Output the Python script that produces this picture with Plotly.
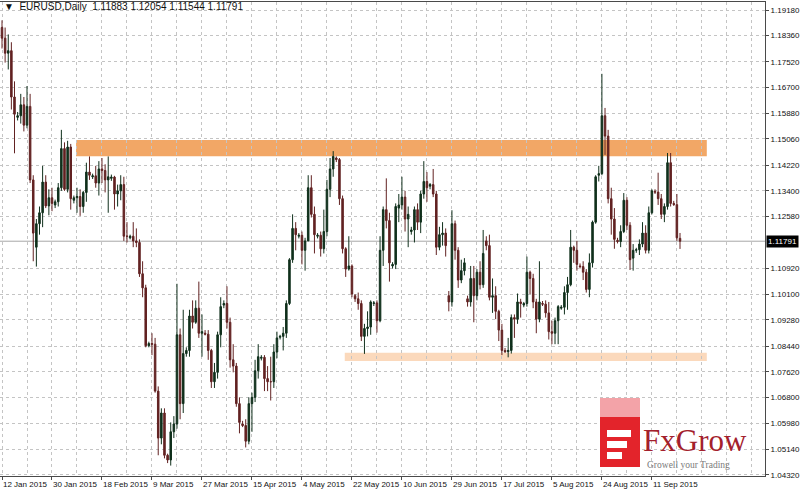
import pandas as pd
import plotly.graph_objects as go

# ---------------- data (EURUSD daily) ----------------
symbol = "EURUSD,Daily"
dates = pd.bdate_range("2015-01-12", "2015-09-22", freq="C",
                       weekmask="Sun Mon Tue Wed Thu Fri")

open_ = [
    1.1862, 1.1828, 1.1780, 1.1788, 1.1640,
    1.1575, 1.1580, 1.1615, 1.1550, 1.1610, 1.1375,
    1.1160, 1.1235, 1.1270, 1.1368, 1.1292, 1.1318,
    1.1295, 1.1305, 1.1350, 1.1475, 1.1345, 1.1480,
    1.1310, 1.1318, 1.1322, 1.1290, 1.1335, 1.1400,
    1.1385, 1.1388, 1.1365, 1.1410, 1.1405, 1.1375,
    1.1380, 1.1384, 1.1330, 1.1340, 1.1360, 1.1195,
    1.1190, 1.1195, 1.1180, 1.1175, 1.1075, 1.1030,
    1.0845, 1.0852, 1.0850, 1.0700, 1.0550, 1.0630,
    1.0495, 1.0480, 1.0570, 1.0595, 1.0880, 1.0660,
    1.0820, 1.0830, 1.0940, 1.0920, 1.0965, 1.0885,
    1.0885, 1.0882, 1.0830, 1.0730, 1.0760, 1.0880,
    1.0975, 1.0980, 1.0920, 1.0800, 1.0780, 1.0660,
    1.0595, 1.0590, 1.0540, 1.0660, 1.0680, 1.0765,
    1.0805, 1.0808, 1.0740, 1.0730, 1.0730, 1.0825,
    1.0872, 1.0875, 1.0885, 1.0980, 1.1120, 1.1220,
    1.1195, 1.1198, 1.1150, 1.1180, 1.1350, 1.1265,
    1.1195, 1.1198, 1.1155, 1.1210, 1.1345, 1.1410,
    1.1445, 1.1440, 1.1315, 1.1155, 1.1090, 1.1100,
    1.1005, 1.0995, 1.0980, 1.0875, 1.0900, 1.0905,
    1.0980, 1.0982, 1.0925, 1.1150, 1.1280, 1.1245,
    1.1100, 1.1105, 1.1285, 1.1295, 1.1320, 1.1250,
    1.1210, 1.1215, 1.1280, 1.1240, 1.1330, 1.1370,
    1.1355, 1.1360, 1.1330, 1.1160, 1.1200, 1.1205,
    1.1005, 1.0985, 1.1235, 1.1150, 1.1055, 1.1085,
    1.0995, 1.0985, 1.1060, 1.1005, 1.1080, 1.1040,
    1.1180, 1.1165, 1.1000, 1.1005, 1.0955, 1.0895,
    1.0830, 1.0826, 1.0830, 1.0935, 1.0930, 1.0985,
    1.0975, 1.0980, 1.1080, 1.1060, 1.0985, 1.0930,
    1.0980, 1.0978, 1.0950, 1.0890, 1.0885, 1.0925,
    1.0965, 1.0968, 1.1015, 1.1040, 1.1160, 1.1150,
    1.1100, 1.1098, 1.1080, 1.1025, 1.1110, 1.1240,
    1.1390, 1.1395, 1.1580, 1.1515, 1.1315, 1.1250,
    1.1182, 1.1178, 1.1210, 1.1310, 1.1230, 1.1125,
    1.1150, 1.1152, 1.1170, 1.1205, 1.1150, 1.1270,
    1.1338, 1.1336, 1.1315, 1.1265, 1.1290, 1.1430,
    1.1300, 1.1296, 1.11883,
]
high = [
    1.1885, 1.1862, 1.1840, 1.1815, 1.1690,
    1.1592, 1.1650, 1.1640, 1.1675, 1.1650, 1.1390,
    1.1250, 1.1290, 1.1420, 1.1390, 1.1345, 1.1350,
    1.1312, 1.1365, 1.1535, 1.1495, 1.1500, 1.1490,
    1.1325, 1.1350, 1.1345, 1.1340, 1.1430, 1.1450,
    1.1395, 1.1420, 1.1435, 1.1445, 1.1425, 1.1450,
    1.1392, 1.1388, 1.1360, 1.1390, 1.1385, 1.1240,
    1.1200, 1.1240, 1.1220, 1.1185, 1.1115, 1.1040,
    1.0858, 1.0885, 1.0870, 1.0715, 1.0645, 1.0645,
    1.0500, 1.0600, 1.0620, 1.1043, 1.0900, 1.0960,
    1.0840, 1.0960, 1.0990, 1.0990, 1.1050, 1.0945,
    1.0895, 1.0895, 1.0835, 1.0790, 1.0890, 1.1000,
    1.0990, 1.1035, 1.0935, 1.0850, 1.0790, 1.0680,
    1.0605, 1.0610, 1.0680, 1.0695, 1.0800, 1.0850,
    1.0815, 1.0815, 1.0780, 1.0810, 1.0850, 1.0890,
    1.0880, 1.0905, 1.0990, 1.1125, 1.1265, 1.1240,
    1.1205, 1.1210, 1.1190, 1.1390, 1.1390, 1.1290,
    1.1205, 1.1210, 1.1280, 1.1375, 1.1445, 1.1467,
    1.1450, 1.1445, 1.1325, 1.1160, 1.1195, 1.1105,
    1.1010, 1.1015, 1.0990, 1.0915, 1.0955, 1.0990,
    1.0988, 1.0990, 1.1195, 1.1290, 1.1380, 1.1270,
    1.1112, 1.1300, 1.1330, 1.1385, 1.1340, 1.1290,
    1.1225, 1.1290, 1.1300, 1.1340, 1.1435, 1.1400,
    1.1365, 1.1410, 1.1340, 1.1225, 1.1240, 1.1220,
    1.1020, 1.1278, 1.1245, 1.1160, 1.1120, 1.1125,
    1.1005, 1.1100, 1.1100, 1.1090, 1.1115, 1.1215,
    1.1195, 1.1200, 1.1060, 1.1035, 1.0960, 1.0915,
    1.0838, 1.0870, 1.0945, 1.0945, 1.1012, 1.0995,
    1.0985, 1.1130, 1.1085, 1.1075, 1.0995, 1.1115,
    1.0988, 1.0990, 1.0985, 1.0925, 1.0935, 1.0975,
    1.0975, 1.1035, 1.1065, 1.1215, 1.1165, 1.1180,
    1.1108, 1.1115, 1.1090, 1.1140, 1.1245, 1.1390,
    1.1420, 1.1714, 1.1605, 1.1535, 1.1350, 1.1285,
    1.1190, 1.1230, 1.1333, 1.1320, 1.1240, 1.1170,
    1.1158, 1.1185, 1.1240, 1.1230, 1.1290, 1.1345,
    1.1345, 1.1398, 1.1330, 1.1300, 1.1461, 1.1461,
    1.1308, 1.1330, 1.12054,
]
low = [
    1.1795, 1.1750, 1.1728, 1.1600, 1.1460,
    1.1565, 1.1555, 1.1530, 1.1540, 1.1365, 1.1115,
    1.1098, 1.1200, 1.1224, 1.1285, 1.1262, 1.1275,
    1.1285, 1.1290, 1.1340, 1.1340, 1.1335, 1.1280,
    1.1300, 1.1270, 1.1260, 1.1270, 1.1305, 1.1375,
    1.1378, 1.1350, 1.1325, 1.1365, 1.1335, 1.1270,
    1.1372, 1.1280, 1.1290, 1.1310, 1.1180, 1.1175,
    1.1185, 1.1160, 1.1160, 1.1065, 1.1000, 1.0840,
    1.0840, 1.0815, 1.0695, 1.0495, 1.0530, 1.0485,
    1.0470, 1.0462, 1.0550, 1.0580, 1.0610, 1.0630,
    1.0810, 1.0810, 1.0900, 1.0915, 1.0870, 1.0810,
    1.0878, 1.0800, 1.0710, 1.0710, 1.0740, 1.0840,
    1.0965, 1.0900, 1.0775, 1.0760, 1.0650, 1.0565,
    1.0585, 1.0520, 1.0530, 1.0570, 1.0665, 1.0740,
    1.0798, 1.0700, 1.0700, 1.0670, 1.0710, 1.0805,
    1.0865, 1.0830, 1.0870, 1.0975, 1.1110, 1.1150,
    1.1188, 1.1105, 1.1085, 1.1180, 1.1255, 1.1140,
    1.1188, 1.1130, 1.1140, 1.1195, 1.1320, 1.1385,
    1.1432, 1.1295, 1.1140, 1.1065, 1.1085, 1.1000,
    1.0985, 1.0960, 1.0860, 1.0819, 1.0875, 1.0880,
    1.0972, 1.0887, 1.0920, 1.1100, 1.1220, 1.1050,
    1.1092, 1.1090, 1.1240, 1.1280, 1.1210, 1.1160,
    1.1200, 1.1175, 1.1215, 1.1205, 1.1315, 1.1305,
    1.1345, 1.1320, 1.1135, 1.1150, 1.1165, 1.1130,
    1.0955, 1.0970, 1.1120, 1.1030, 1.1045, 1.1070,
    1.0970, 1.0970, 1.0920, 1.0990, 1.1025, 1.1030,
    1.1150, 1.0990, 1.0950, 1.0930, 1.0860, 1.0815,
    1.0822, 1.0808, 1.0820, 1.0870, 1.0915, 1.0935,
    1.0968, 1.0970, 1.1010, 1.0965, 1.0885, 1.0920,
    1.0972, 1.0935, 1.0865, 1.0850, 1.0850, 1.0850,
    1.0960, 1.0945, 1.0960, 1.1035, 1.1110, 1.1085,
    1.1092, 1.1055, 1.1015, 1.1000, 1.1095, 1.1235,
    1.1370, 1.1390, 1.1455, 1.1300, 1.1200, 1.1155,
    1.1172, 1.1160, 1.1205, 1.1215, 1.1087, 1.1085,
    1.1142, 1.1135, 1.1160, 1.1140, 1.1140, 1.1265,
    1.1330, 1.1295, 1.1250, 1.1240, 1.1280, 1.1290,
    1.1292, 1.1180, 1.11544,
]
close = [
    1.1828, 1.1780, 1.1788, 1.1640, 1.1585,
    1.1580, 1.1615, 1.1550, 1.1610, 1.1375, 1.1205,
    1.1235, 1.1270, 1.1368, 1.1292, 1.1318, 1.1300,
    1.1305, 1.1350, 1.1475, 1.1345, 1.1480, 1.1315,
    1.1318, 1.1322, 1.1290, 1.1335, 1.1400, 1.1390,
    1.1388, 1.1365, 1.1410, 1.1405, 1.1375, 1.1385,
    1.1384, 1.1330, 1.1340, 1.1360, 1.1195, 1.1195,
    1.1195, 1.1180, 1.1175, 1.1075, 1.1030, 1.0845,
    1.0852, 1.0850, 1.0700, 1.0550, 1.0630, 1.0495,
    1.0480, 1.0570, 1.0595, 1.0880, 1.0660, 1.0820,
    1.0830, 1.0940, 1.0920, 1.0965, 1.0885, 1.0890,
    1.0882, 1.0830, 1.0730, 1.0760, 1.0880, 1.0970,
    1.0980, 1.0920, 1.0800, 1.0780, 1.0660, 1.0600,
    1.0590, 1.0540, 1.0660, 1.0680, 1.0765, 1.0810,
    1.0808, 1.0740, 1.0730, 1.0730, 1.0825, 1.0870,
    1.0875, 1.0885, 1.0980, 1.1120, 1.1220, 1.1200,
    1.1198, 1.1150, 1.1180, 1.1350, 1.1265, 1.1200,
    1.1198, 1.1155, 1.1210, 1.1345, 1.1410, 1.1450,
    1.1440, 1.1315, 1.1155, 1.1090, 1.1100, 1.1010,
    1.0995, 1.0980, 1.0875, 1.0900, 1.0905, 1.0985,
    1.0982, 1.0925, 1.1150, 1.1280, 1.1245, 1.1110,
    1.1105, 1.1290, 1.1295, 1.1320, 1.1250, 1.1265,
    1.1215, 1.1280, 1.1240, 1.1330, 1.1370, 1.1350,
    1.1360, 1.1330, 1.1160, 1.1200, 1.1205, 1.1165,
    1.0985, 1.1235, 1.1150, 1.1055, 1.1085, 1.1110,
    1.0985, 1.1060, 1.1005, 1.1080, 1.1040, 1.1140,
    1.1165, 1.1000, 1.1005, 1.0955, 1.0895, 1.0830,
    1.0826, 1.0830, 1.0935, 1.0930, 1.0985, 1.0980,
    1.0980, 1.1080, 1.1060, 1.0985, 1.0930, 1.0985,
    1.0978, 1.0950, 1.0890, 1.0885, 1.0925, 1.0970,
    1.0968, 1.1015, 1.1040, 1.1160, 1.1150, 1.1105,
    1.1098, 1.1080, 1.1025, 1.1110, 1.1240, 1.1385,
    1.1395, 1.1580, 1.1515, 1.1315, 1.1250, 1.1185,
    1.1178, 1.1210, 1.1310, 1.1230, 1.1120, 1.1150,
    1.1152, 1.1170, 1.1205, 1.1150, 1.1270, 1.1340,
    1.1336, 1.1315, 1.1265, 1.1290, 1.1430, 1.1300,
    1.1296, 1.1190, 1.11791,
]

tick_labels = ["12 Jan 2015", "30 Jan 2015", "18 Feb 2015", "9 Mar 2015",
               "27 Mar 2015", "15 Apr 2015", "4 May 2015", "22 May 2015",
               "10 Jun 2015", "29 Jun 2015", "17 Jul 2015", "5 Aug 2015",
               "24 Aug 2015", "11 Sep 2015"]
price_ticks = [1.19180, 1.18360, 1.17520, 1.16700, 1.15880, 1.15060,
               1.14220, 1.13400, 1.12580, 1.10920, 1.10100, 1.09280,
               1.08440, 1.07620, 1.06800, 1.05980, 1.05140, 1.04320]

# drawn zones (price levels and start/end dates)
resistance_zone = [1.14510, 1.15025]
support_zone = [1.07965, 1.08225]
resistance_span = ["2015-02-09", "2015-10-02"]
support_span = ["2015-05-20", "2015-10-02"]

# ---------------- layout constants ----------------
W, H = 800, 493
ML, MR, MT, MB = 0, 35, 2, 17
PW, PH = W - ML - MR, H - MT - MB
FONT = "Liberation Sans, Arial, sans-serif"
BULL = "#10301c"
BEAR = "#622222"

n = len(close)
xidx = list(range(n))
date_pos = {d.strftime("%Y-%m-%d"): i for i, d in enumerate(dates)}
label_pos = [date_pos[pd.to_datetime(t).strftime("%Y-%m-%d")] for t in tick_labels]


def span_idx(s):
    d = pd.to_datetime(s)
    if d.strftime("%Y-%m-%d") in date_pos:
        return date_pos[d.strftime("%Y-%m-%d")] - 0.3
    return n - 1 + (d - dates[-1]).days * 6 / 7


def px(x):
    return (x - ML) / PW


def py(y):
    return (H - MB - y) / PH


fig = go.Figure()
fig.add_trace(go.Candlestick(
    x=xidx, open=open_, high=high, low=low, close=close,
    increasing=dict(line=dict(color=BULL, width=1), fillcolor=BULL),
    decreasing=dict(line=dict(color=BEAR, width=1), fillcolor=BEAR),
    whiskerwidth=0, hoverinfo="skip", showlegend=False,
))

shapes = []
shapes.append(dict(type="rect", xref="x", yref="y", layer="below",
                   x0=span_idx(resistance_span[0]), x1=span_idx(resistance_span[1]),
                   y0=resistance_zone[0], y1=resistance_zone[1],
                   fillcolor="#f2a766", line=dict(width=0)))
shapes.append(dict(type="rect", xref="x", yref="y", layer="below",
                   x0=span_idx(support_span[0]), x1=span_idx(support_span[1]),
                   y0=support_zone[0], y1=support_zone[1],
                   fillcolor="#fbd9bc", line=dict(width=0)))
shapes.append(dict(type="line", xref="paper", yref="y", x0=0, x1=1,
                   y0=close[-1], y1=close[-1], layer="below",
                   line=dict(color="#a8a8a8", width=1)))
# logo
shapes.append(dict(type="rect", xref="paper", yref="paper", layer="above",
                   x0=px(600), x1=px(640), y0=py(417), y1=py(398),
                   fillcolor="#f3a3a8", line=dict(width=0)))
shapes.append(dict(type="rect", xref="paper", yref="paper", layer="above",
                   x0=px(600), x1=px(640), y0=py(467), y1=py(417),
                   fillcolor="#e3242b", line=dict(width=0)))
for (a, b, c) in [(430, 437, 631), (441, 448, 627), (452, 459, 622)]:
    shapes.append(dict(type="rect", xref="paper", yref="paper", layer="above",
                       x0=px(607), x1=px(c), y0=py(b), y1=py(a),
                       fillcolor="white", line=dict(width=0)))

annotations = []
annotations.append(dict(
    xref="paper", yref="paper", x=px(2), y=py(7), xanchor="left", yanchor="middle",
    text="▼  %s  %.5f %.5f %.5f %.5f" % (symbol, open_[-1], high[-1], low[-1], close[-1]),
    showarrow=False, font=dict(family=FONT, size=10, color="#111")))
annotations.append(dict(
    xref="paper", yref="y", x=1, y=close[-1], xanchor="left", yanchor="middle",
    xshift=1, text="%.5f" % close[-1], showarrow=False, bgcolor="#000000",
    borderpad=1, font=dict(family=FONT, size=8, color="white")))
annotations.append(dict(
    xref="paper", yref="paper", x=px(641), y=py(440), xanchor="left", yanchor="middle",
    text="FxGrow", showarrow=False,
    font=dict(family="Liberation Serif, Times New Roman, serif", size=31, color="#a3202c")))
annotations.append(dict(
    xref="paper", yref="paper", x=px(645), y=py(465), xanchor="left", yanchor="middle",
    text="Growell your Trading", showarrow=False,
    font=dict(family="Liberation Serif, Times New Roman, serif", size=9.5, color="#7a7a7a")))

GRID = dict(gridcolor="#c4c4c4", griddash="3px,3px", gridwidth=1)

fig.update_layout(
    width=W, height=H, margin=dict(l=ML, r=MR, t=MT, b=MB, autoexpand=False),
    paper_bgcolor="white", plot_bgcolor="white",
    font=dict(family=FONT, size=8, color="#111"),
    shapes=shapes, annotations=annotations, showlegend=False,
    xaxis=dict(
        range=[-0.64, 244.2], rangeslider=dict(visible=False),
        tickmode="array", tickvals=label_pos, ticktext=tick_labels,
        ticklabelposition="outside right", tickangle=0, automargin=False,
        tickfont=dict(family=FONT, size=8, color="#111"),
        showgrid=True, **GRID,
        minor=dict(tickmode="linear", tick0=0, dtick=8, showgrid=True,
                   gridcolor="#c4c4c4", griddash="3px,3px", ticklen=0),
        showline=True, linecolor="#4a4a4a", linewidth=1, mirror=True,
        ticks="outside", ticklen=3, tickcolor="#4a4a4a",
        zeroline=False, fixedrange=True,
    ),
    yaxis=dict(
        side="right", range=[1.04287, 1.19436], automargin=False,
        tickmode="array", tickvals=price_ticks,
        ticktext=["%.5f" % v for v in price_ticks],
        tickfont=dict(family=FONT, size=8, color="#111"),
        showgrid=True, **GRID,
        showline=True, linecolor="#4a4a4a", linewidth=1, mirror=True,
        ticks="outside", ticklen=3, tickcolor="#4a4a4a",
        zeroline=False, fixedrange=True,
    ),
)

fig.write_html("out.html", config={"displayModeBar": False},
               post_script="document.body.style.margin='0';")
